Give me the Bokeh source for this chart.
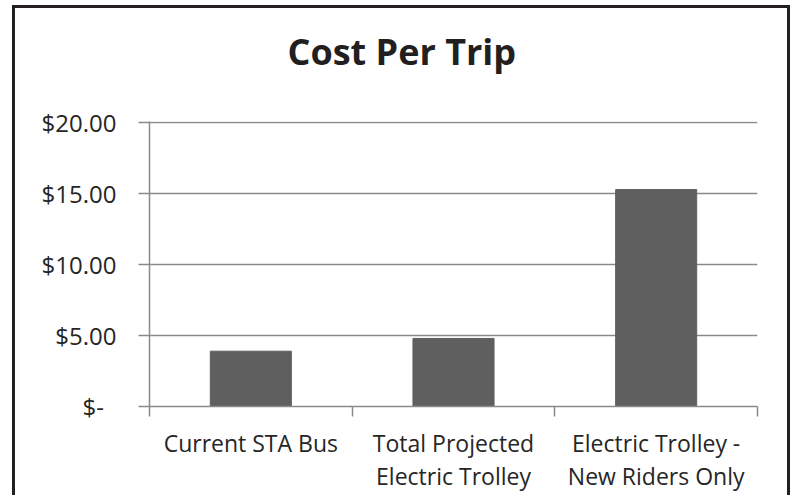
from bokeh.plotting import figure
from bokeh.models import Range1d, FixedTicker, Title
from bokeh.embed import file_html
from bokeh.resources import INLINE

# ---- data ----
categories = ["Current STA Bus", "Total Projected Electric Trolley", "Electric Trolley - New Riders Only"]
category_labels = ["Current STA Bus", "Total Projected\nElectric Trolley", "Electric Trolley -\nNew Riders Only"]
cost_per_trip = [3.9, 4.8, 15.3]
y_ticks = [0, 5, 10, 15, 20]
y_tick_labels = ["$-\u00a0\u00a0", "$5.00", "$10.00", "$15.00", "$20.00"]
title_text = "Cost Per Trip"

FONT = "Open Sans"
TEXT = "#262626"
GRID = "#8a8a8a"
BAR = "#5f5f5f"

W, H = 778, 490
p = figure(width=W, height=H, output_backend="svg", toolbar_location=None,
           x_range=Range1d(0, len(categories)), y_range=Range1d(0, 20.1),
           min_border_left=134, min_border_right=36, min_border_top=113, min_border_bottom=92,
           tools="")
p.styles = {"border-top": "3px solid #231f20", "border-left": "3px solid #231f20",
            "border-right": "3px solid #231f20", "margin-left": "12px", "margin-top": "5px"}
p.outline_line_color = None
p.background_fill_color = "white"
p.border_fill_color = "white"

centers = [i + 0.5 for i in range(len(categories))]
p.vbar(x=centers, top=cost_per_trip, bottom=0, width=0.4, fill_color=BAR, line_color=BAR)

# y axis
p.yaxis.ticker = FixedTicker(ticks=y_ticks)
p.yaxis.major_label_overrides = {t: l for t, l in zip(y_ticks, y_tick_labels)}
p.yaxis.axis_line_color = GRID
p.yaxis.axis_line_width = 1.5
p.yaxis.major_tick_line_color = GRID
p.yaxis.major_tick_line_width = 1.5
p.yaxis.major_tick_out = 11
p.yaxis.major_tick_in = 0
p.yaxis.minor_tick_line_color = None
p.yaxis.major_label_standoff = 22
p.yaxis.major_label_text_font = FONT
p.yaxis.major_label_text_font_size = "24px"
p.yaxis.major_label_text_color = TEXT

# x axis: labels at centers, ticks at category boundaries
p.xaxis.ticker = FixedTicker(ticks=centers, minor_ticks=list(range(len(categories) + 1)))
p.xaxis.major_label_overrides = {c: l for c, l in zip(centers, category_labels)}
p.xaxis.axis_line_color = GRID
p.xaxis.axis_line_width = 1.5
p.xaxis.major_tick_line_color = None
p.xaxis.major_tick_out = 0
p.xaxis.major_tick_in = 0
p.xaxis.minor_tick_line_color = GRID
p.xaxis.minor_tick_line_width = 1.5
p.xaxis.minor_tick_out = 10
p.xaxis.minor_tick_in = 0
p.xaxis.major_label_standoff = 10
p.xaxis.major_label_text_font = FONT
p.xaxis.major_label_text_font_size = "23px"
p.xaxis.major_label_text_color = TEXT
p.xaxis.major_label_text_line_height = 1.05

p.xgrid.grid_line_color = None
p.ygrid.ticker = FixedTicker(ticks=y_ticks)
p.ygrid.grid_line_color = GRID
p.ygrid.grid_line_width = 1.5

# trailing empty line lifts the title away from the plot area
title = Title(text=title_text + "\n", align="left", offset=138, standoff=0,
              text_line_height=0.93,
              text_font=FONT, text_font_style="bold", text_font_size="36px",
              text_color="#231f20")
p.add_layout(title, "above")

open("out.html", "w").write(file_html(p, INLINE))
